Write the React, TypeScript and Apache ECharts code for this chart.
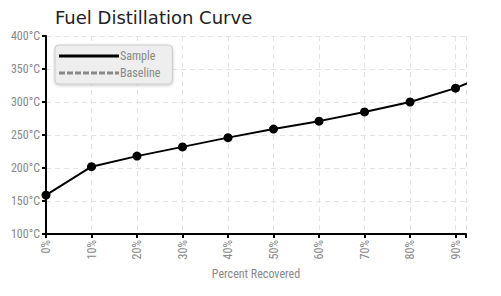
import React, { useEffect, useRef } from "react";
import * as echarts from "echarts";

const TITLE = "Fuel Distillation Curve";
const X_NAME = "Percent Recovered";
const Y_NAME = "Temperature (°C)";
const recovered = [0, 10, 20, 30, 40, 50, 60, 70, 80, 90, 100];
const sampleTemps = [159, 202, 218, 232, 246, 259, 271, 285, 300, 321, 350];
const baselineTemps: number[] = [];

const FONT = "'Liberation Sans Narrow', 'Roboto Condensed', 'Roboto', sans-serif";

export default function App() {
  const ref = useRef<HTMLDivElement>(null);
  useEffect(() => {
    const chart = echarts.init(ref.current!, undefined, { renderer: "svg" });
    chart.setOption({
      animation: false,
      backgroundColor: "#fff",
      graphic: [
        {
          type: "text",
          x: 55,
          y: 8,
          style: {
            text: TITLE,
            fontFamily: "'DejaVu Sans', sans-serif",
            fontSize: 18,
            fill: "#222",
            textAlign: "left",
            textVerticalAlign: "top",
          },
        },
      ],
      legend: {
        orient: "vertical",
        left: 55,
        top: 45,
        padding: [5, 12, 5, 4],
        itemGap: 5,
        itemWidth: 60,
        itemHeight: 3,
        backgroundColor: "#eeeeee",
        borderColor: "#cccccc",
        borderWidth: 1,
        borderRadius: 4,
        shadowColor: "rgba(0,0,0,0.25)",
        shadowBlur: 3,
        shadowOffsetY: 1,
        textStyle: { fontFamily: FONT, fontSize: 12, color: "#888", padding: [0, 0, 0, -4] },
        data: [
          { name: "Sample", icon: "path://M0,0h60v3h-60z" },
          {
            name: "Baseline",
            icon: "path://M0,0h6v3h-6z M8,0h6v3h-6z M16,0h6v3h-6z M24,0h6v3h-6z M32,0h6v3h-6z M40,0h6v3h-6z M48,0h6v3h-6z M56,0h4v3h-4z",
          },
        ],
      },
      grid: { left: 46, right: 35, top: 36, bottom: 62, outerBoundsMode: "none", containLabel: false },
      xAxis: {
        type: "value",
        min: 0,
        max: 92.3,
        interval: 10,
        name: X_NAME,
        nameLocation: "middle",
        nameGap: 34,
        nameTextStyle: { fontFamily: FONT, fontSize: 12, color: "#888" },
        axisLine: { lineStyle: { color: "#000", width: 2 } },
        axisTick: { show: true, length: 4, lineStyle: { color: "#000", width: 2 } },
        axisLabel: {
          rotate: 90,
          margin: 6,
          fontFamily: FONT,
          fontSize: 12,
          color: "#888",
          formatter: (v: number) => (v > 90 ? "" : v + "%"),
        },
        splitLine: { show: true, lineStyle: { color: "#e3e3e3", type: [5, 4] } },
      },
      yAxis: {
        type: "value",
        min: 100,
        max: 400,
        interval: 50,
        name: Y_NAME,
        nameLocation: "middle",
        nameGap: 47,
        nameTextStyle: { fontFamily: FONT, fontSize: 12, color: "#888" },
        axisLine: { show: true, lineStyle: { color: "#000", width: 2 } },
        axisTick: { show: true, length: 4, lineStyle: { color: "#000", width: 2 } },
        axisLabel: {
          margin: 6,
          fontFamily: FONT,
          fontSize: 12,
          color: "#888",
          formatter: (v: number) => v + "°C",
        },
        splitLine: { show: true, lineStyle: { color: "#e3e3e3", type: [5, 4] } },
      },
      series: [
        {
          name: "Sample",
          type: "line",
          data: recovered.map((r, i) => [r, sampleTemps[i]]),
          symbol: "circle",
          symbolSize: 9,
          lineStyle: { color: "#000", width: 2 },
          itemStyle: { color: "#000" },
          clip: true,
        },
        {
          name: "Baseline",
          type: "line",
          data: baselineTemps,
          lineStyle: { color: "#888", width: 2, type: "dashed" },
          itemStyle: { color: "#888" },
        },
      ],
    });
    return () => chart.dispose();
  }, []);
  return <div ref={ref} style={{ width: 501, height: 296, position: "absolute", left: 0, top: 0 }} />;
}
